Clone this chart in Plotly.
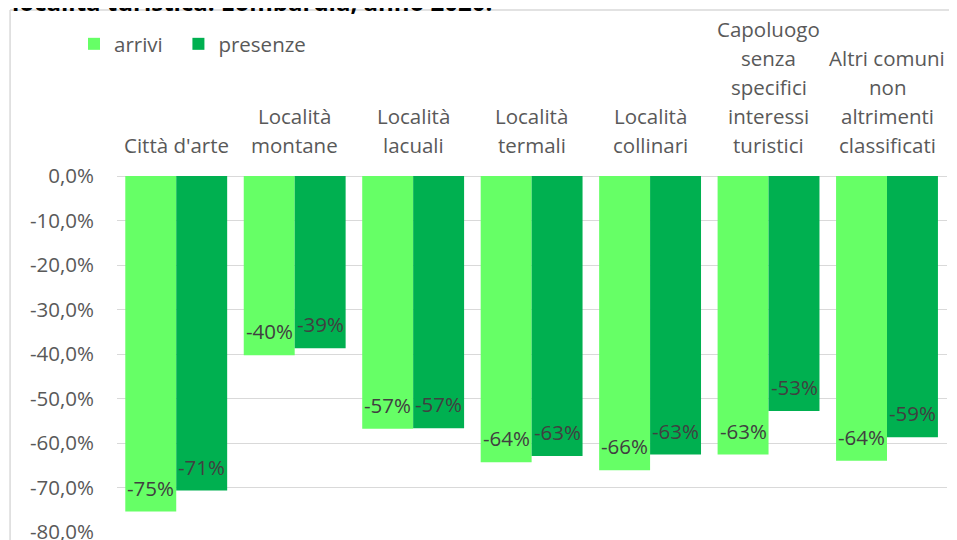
import plotly.graph_objects as go

# data
categories = ["Città d'arte", "Località<br>montane", "Località<br>lacuali", "Località<br>termali",
              "Località<br>collinari", "Capoluogo<br>senza<br>specifici<br>interessi<br>turistici",
              "Altri comuni<br>non<br>altrimenti<br>classificati"]
arrivi = [-75.4, -40.3, -56.8, -64.3, -66.1, -62.6, -64.0]
presenze = [-70.7, -38.7, -56.7, -62.9, -62.6, -52.8, -58.7]
y_ticks = [0, -10, -20, -30, -40, -50, -60, -70, -80]
y_ticktext = [("%.1f%%" % v).replace(".", ",") for v in y_ticks]
title_text = "località turistica. Lombardia, anno 2020."

# the page puts the figure 8px in from the window corner
OFF = 8
W, H = 957, 540
ML, MR, MT, MB = 109, 17.5, 168, 16
PW, PH = W - ML - MR, H - MT - MB


def px(x):
    # screen pixel -> paper x
    return (x - OFF - ML) / PW


def py(y):
    # screen pixel -> paper y
    return (H - MB - (y - OFF)) / PH


FONT = "Open Sans"
GREY = "#595959"
FS = 20.5

fig = go.Figure()
# nbsp padding widens the first legend entry like the Excel legend
fig.add_trace(go.Bar(x=categories, y=arrivi, name="arrivi\u00a0\u00a0",
                     marker=dict(color="#66FF66", line=dict(width=0))))
fig.add_trace(go.Bar(x=categories, y=presenze, name="presenze",
                     marker=dict(color="#00B050", line=dict(width=0))))

bargap = 0.14
half = (1 - bargap) / 4

annotations = []
# data labels near the bottom end of each bar
for i, (a, p) in enumerate(zip(arrivi, presenze)):
    for val, off in ((a, -half), (p, half)):
        annotations.append(dict(x=i + off, y=val, xref="x", yref="y", text="%d%%" % round(val),
                                showarrow=False, yshift=24, font=dict(family=FONT, size=FS, color="#404040")))

# category labels above the plot, Excel-like line spacing
for i, cat in enumerate(categories):
    lines = cat.split("<br>")
    for k, line in enumerate(reversed(lines)):
        annotations.append(dict(x=i, y=1, xref="x", yref="paper", text=line, showarrow=False,
                                yanchor="middle", yshift=31 + 29 * k,
                                font=dict(family=FONT, size=FS, color=GREY)))

# title (cut off at top)
annotations.append(dict(x=px(10), y=py(1), xref="paper", yref="paper", text="<b>" + title_text + "</b>",
                        xanchor="left", yanchor="middle", showarrow=False,
                        font=dict(family=FONT, size=24, color="#000000")))

shapes = [
    dict(type="line", xref="paper", yref="paper", x0=px(10), x1=px(10), y0=py(10), y1=py(580),
         line=dict(color="#d9d9d9", width=1.5)),
    dict(type="line", xref="paper", yref="paper", x0=px(10), x1=px(990), y0=py(10), y1=py(10),
         line=dict(color="#d9d9d9", width=1.5)),
]

fig.update_layout(
    width=W, height=H,
    margin=dict(l=ML, r=MR, t=MT, b=MB, autoexpand=False),
    barmode="group", bargap=bargap, bargroupgap=0,
    paper_bgcolor="white", plot_bgcolor="white",
    font=dict(family=FONT, size=FS, color=GREY),
    legend=dict(orientation="h", x=px(74), y=py(24), xanchor="left", yanchor="top",
                font=dict(family=FONT, size=FS, color=GREY), bgcolor="rgba(0,0,0,0)"),
    annotations=annotations, shapes=shapes,
)
fig.update_xaxes(showticklabels=False, showgrid=False, zeroline=False, showline=False)
fig.update_yaxes(range=[-80, 0], tickvals=y_ticks, ticktext=y_ticktext,
                 showgrid=True, gridcolor="#d9d9d9", gridwidth=1, zeroline=True, zerolinecolor="#d9d9d9",
                 zerolinewidth=1, ticklabelstandoff=22, tickfont=dict(family=FONT, size=FS, color=GREY))

fig.write_html("out.html")
